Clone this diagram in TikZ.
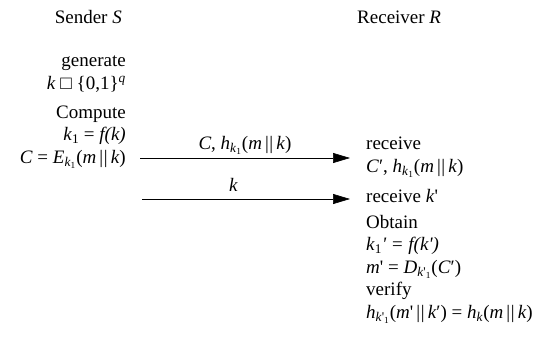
\documentclass[tikz,border=0pt]{standalone}
\usepackage{fontspec}
\setmainfont{Liberation Serif}
\usetikzlibrary{arrows.meta, positioning}
\newcommand{\vi}[1]{\textit{#1}}
\newcommand{\lo}[1]{\textsubscript{#1}}
\newcommand{\dbar}{\,\textbar\kern0.5pt\textbar\,}
\newcommand{\pr}{\textquotesingle}

\begin{document}
\begin{tikzpicture}[
        x=1pt, y=-1pt,
        every node/.style={font=\rmfamily\fontsize{19}{22.5}\selectfont, inner sep=0pt},
        sendtxt/.style={anchor=base east, align=right},
        recvtxt/.style={anchor=base west, align=left},
        msg/.style={-{Triangle[length=17pt, width=10pt]}, semithick}
    ]
        \useasboundingbox (0,0) rectangle (548,348);

        % Headings
        \node[sendtxt] (sender) at (122,23) {Sender \vi{S}};
        \node[recvtxt] (receiver) at (357,23) {Receiver \vi{R}};

        % Sender side (base = last line)
        \node[sendtxt] (gen) at (126,89) {generate\\\vi{k} □ \{0,1\}\textsuperscript{\vi{q}}};
        \node[sendtxt] (comp) at (126,163) {Compute\\\vi{k}\lo{1} = \vi{f(k)}\\\vi{C} = \vi{E}\lo{\vi{k}\lo{1}}(\vi{m}\dbar\vi{k})};

        % Receiver side (base = last line)
        \node[recvtxt] (recv1) at (366,172) {receive\\\vi{C}′, \vi{h}\lo{\vi{k}\lo{1}}(\vi{m}\dbar\vi{k})};
        \node[recvtxt] (recv2) at (366,202) {receive \vi{k}\pr};
        \node[recvtxt] (obtain) at (366,273) {Obtain\\\vi{k}\lo{1}\vi{\pr{} = f(k\pr)}\\\vi{m}\pr{} = \vi{D}\lo{\vi{k}\pr\lo{1}}(\vi{C}′)};
        \node[recvtxt] (verify) at (366,318) {verify\\\vi{h}\lo{\vi{k}\pr\lo{1}}(\vi{m}\pr\dbar\vi{k}′) = \vi{h}\lo{\vi{k}}(\vi{m}\dbar\vi{k})};

        % Messages
        \coordinate (m1s) at (140,158);
        \coordinate (m1e) at (350,158);
        \coordinate (m2s) at (142,199);
        \coordinate (m2e) at (350,199);
        \draw[msg] (m1s) -- node[pos=0.5, above=3pt] (lab1) {\vi{C}, \vi{h}\lo{\vi{k}\lo{1}}(\vi{m}\dbar\vi{k})} (m1e);
        \draw[msg] (m2s) -- node[pos=0.44, above=7pt] (lab2) {\vi{k}} (m2e);

    \end{tikzpicture}
\end{document}
